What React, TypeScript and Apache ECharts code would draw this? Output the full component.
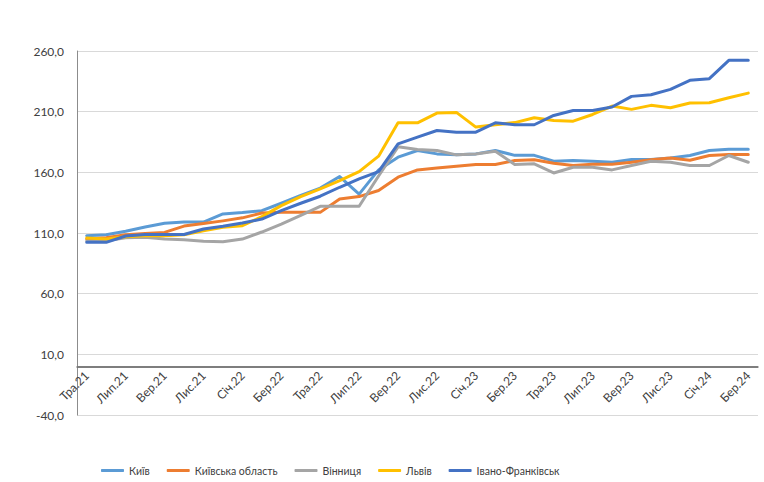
import React, { useEffect, useRef } from "react";
import * as echarts from "echarts";

const categories = [
  "Тра.21", "Чер.21", "Лип.21", "Сер.21", "Вер.21", "Жов.21", "Лис.21", "Гру.21",
  "Січ.22", "Лют.22", "Бер.22", "Кві.22", "Тра.22", "Чер.22", "Лип.22", "Сер.22",
  "Вер.22", "Жов.22", "Лис.22", "Гру.22", "Січ.23", "Лют.23", "Бер.23", "Кві.23",
  "Тра.23", "Чер.23", "Лип.23", "Сер.23", "Вер.23", "Жов.23", "Лис.23", "Гру.23",
  "Січ.24", "Лют.24", "Бер.24",
];

const kyiv = [
  107.8, 108.6, 111.5, 115, 118, 119, 119, 125.7, 126.8, 128.4, 134.5, 141, 147, 156.5, 142, 162,
  172.5, 178, 175.2, 174.4, 175.2, 178, 174, 174, 169.2, 169.7, 169.2, 168.3, 170.5, 170.5, 171.9, 173.9,
  178, 179.1, 179.1,
];

const kyivOblast = [
  105, 106, 108.5, 109.5, 110.5, 115.7, 117.8, 120, 122.5, 126.5, 127, 127, 127, 138, 140, 145,
  156, 162, 163.5, 165, 166.4, 166.4, 169.7, 170.3, 167.5, 165.6, 166.7, 166.7, 168.3, 170.3, 171.9, 170,
  173.9, 174.7, 174.7,
];

const vinnytsia = [
  103.5, 103.5, 106, 106.4, 105, 104.5, 103.2, 102.8, 105, 110.8, 117.4, 124.5, 132, 132, 132, 157,
  181, 178.8, 178, 174.4, 175.2, 177.4, 166.4, 167, 159.5, 164.2, 164.2, 162, 165.6, 169.2, 168.3, 165.6,
  165.6, 173.9, 168.3,
];

const lviv = [
  105.8, 105, 107, 107.8, 107.8, 108.6, 111.9, 114.7, 116, 123.5, 132.6, 140, 146.3, 153.2, 160.6, 173.3,
  200.8, 200.8, 208.8, 209.4, 197.3, 199.2, 201, 205, 202.8, 202.2, 207.7, 214.6, 211.9, 215.2, 213.2, 217.1,
  217.4, 221.5, 225.3,
];

const ivanoFrankivsk = [
  102.3, 102.3, 107.5, 108.8, 108.8, 108.8, 113.3, 115.5, 118.2, 121.5, 128.4, 134.5, 140.3, 147.7, 154.6, 160.6,
  183.5, 189, 194.5, 193.1, 193.1, 200.8, 199.2, 199.2, 206.9, 211, 211, 213.8, 222.6, 224, 228.4, 235.8,
  237.2, 252.3, 252.3,
];

const seriesNames = ["Київ", "Київська область", "Вінниця", "Львів", "Івано-Франківськ"];
const seriesData = [kyiv, kyivOblast, vinnytsia, lviv, ivanoFrankivsk];
const seriesColors = ["#5B9BD5", "#ED7D31", "#A5A5A5", "#FFC000", "#4472C4"];

const FONT = "Lato, 'Liberation Sans', sans-serif";

export default function App() {
  const ref = useRef<HTMLDivElement>(null);

  useEffect(() => {
    document.body.style.margin = "0";
    if (!ref.current) return;
    const chart = echarts.init(ref.current, undefined, { renderer: "svg" });
    chart.setOption({
      animation: false,
      backgroundColor: "#ffffff",
      grid: { left: 77, right: 6, top: 51, bottom: 67, containLabel: false },
      legend: {
        left: 96,
        top: 460,
        itemWidth: 23,
        itemHeight: 3,
        itemGap: 17,
        icon: "roundRect",
        textStyle: { fontFamily: FONT, fontSize: 10.5, color: "#404040" },
        data: seriesNames,
      },
      xAxis: {
        type: "category",
        data: categories,
        boundaryGap: true,
        offset: -48.5,
        axisLine: { show: true, onZero: false, lineStyle: { color: "#767676", width: 1.5 } },
        axisTick: { show: false },
        axisLabel: {
          interval: 1,
          rotate: 45,
          margin: 7,
          fontFamily: FONT,
          fontSize: 12,
          color: "#404040",
        },
        splitLine: { show: false },
      },
      yAxis: {
        type: "value",
        min: -40,
        max: 260,
        interval: 50,
        axisLine: { show: true, lineStyle: { color: "#8C8C8C", width: 1 } },
        axisTick: { show: false },
        axisLabel: {
          margin: 13,
          fontFamily: FONT,
          fontSize: 12,
          color: "#404040",
          formatter: (v: number) => v.toFixed(1).replace(".", ","),
        },
        splitLine: { show: true, lineStyle: { color: "#D9D9D9", width: 1 } },
      },
      series: seriesNames.map((name, i) => ({
        name,
        type: "line",
        data: seriesData[i],
        symbol: "none",
        showSymbol: false,
        color: seriesColors[i],
        z: 3 + i,
        lineStyle: { color: seriesColors[i], width: 3, cap: "round", join: "round" },
        ...(i === 0
          ? {
              markLine: {
                silent: true,
                symbol: "none",
                label: { show: false },
                lineStyle: { color: "#767676", width: 1.5, type: "solid" },
                data: [{ yAxis: 0 }],
              },
            }
          : {}),
      })),
    });
    return () => {
      chart.dispose();
    };
  }, []);

  return (
    <div
      ref={ref}
      style={{ position: "absolute", left: 0, top: 0, width: 764, height: 482 }}
    />
  );
}
